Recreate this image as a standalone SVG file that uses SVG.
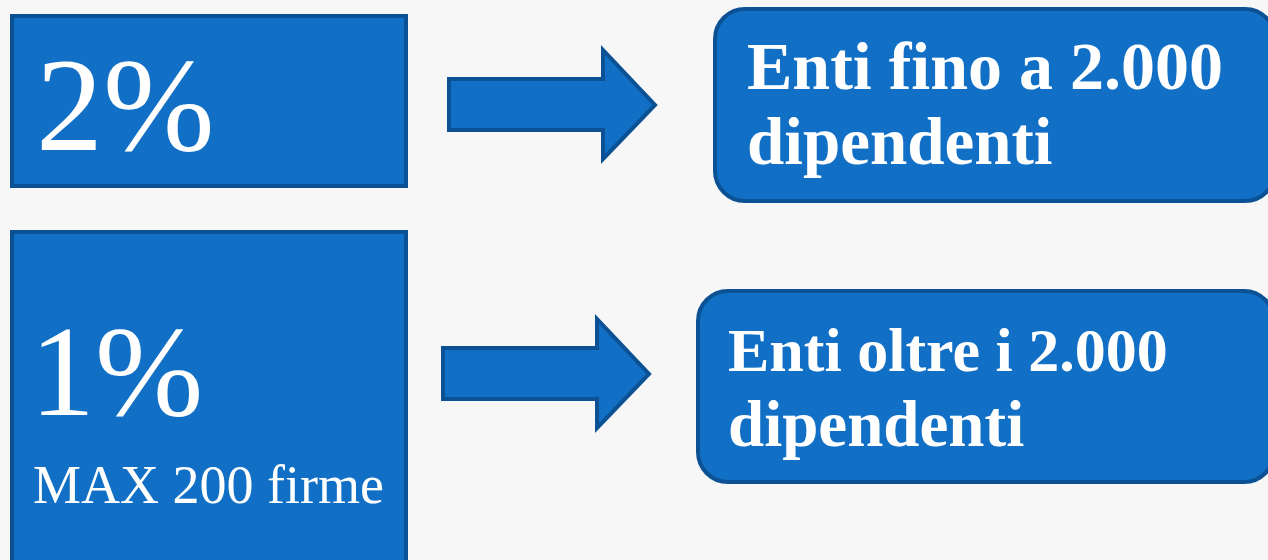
<svg xmlns="http://www.w3.org/2000/svg" width="1268" height="560" viewBox="0 0 1268 560">
<style>
.box{fill:#1170C5;stroke:#0B5193;stroke-width:4}
.t{fill:#FFFFFF;font-family:"Liberation Serif","DejaVu Serif",serif}
.b{font-weight:bold}
</style>
<rect x="0" y="0" width="1268" height="560" fill="#F7F7F7"/>
<g id="pct2">
<rect class="box" x="12" y="16" width="394" height="170"/>
<text class="t" x="36" y="150" font-size="134">2%</text>
</g>
<g id="pct1">
<rect class="box" x="12" y="232" width="394" height="340"/>
<text class="t" x="30" y="415" font-size="130">1%</text>
<text class="t" x="33" y="503" font-size="54">MAX 200 firme</text>
</g>
<g id="connectors">
<polygon class="box" points="449,79 603,79 603,50 655,105 603,159 603,130 449,130"/>
<polygon class="box" points="443,348 597,348 597,319 649,374 597,428 597,399 443,399"/>
</g>
<g id="enti-fino">
<rect class="box" x="715" y="9" width="560" height="192" rx="30"/>
<text class="t b" x="747" y="89" font-size="68">Enti fino a 2.000</text>
<text class="t b" x="747" y="164" font-size="67">dipendenti</text>
</g>
<g id="enti-oltre">
<rect class="box" x="698" y="291" width="576" height="191" rx="30"/>
<text class="t b" x="728" y="371" font-size="62">Enti oltre i 2.000</text>
<text class="t b" x="728" y="446" font-size="65">dipendenti</text>
</g>
</svg>
